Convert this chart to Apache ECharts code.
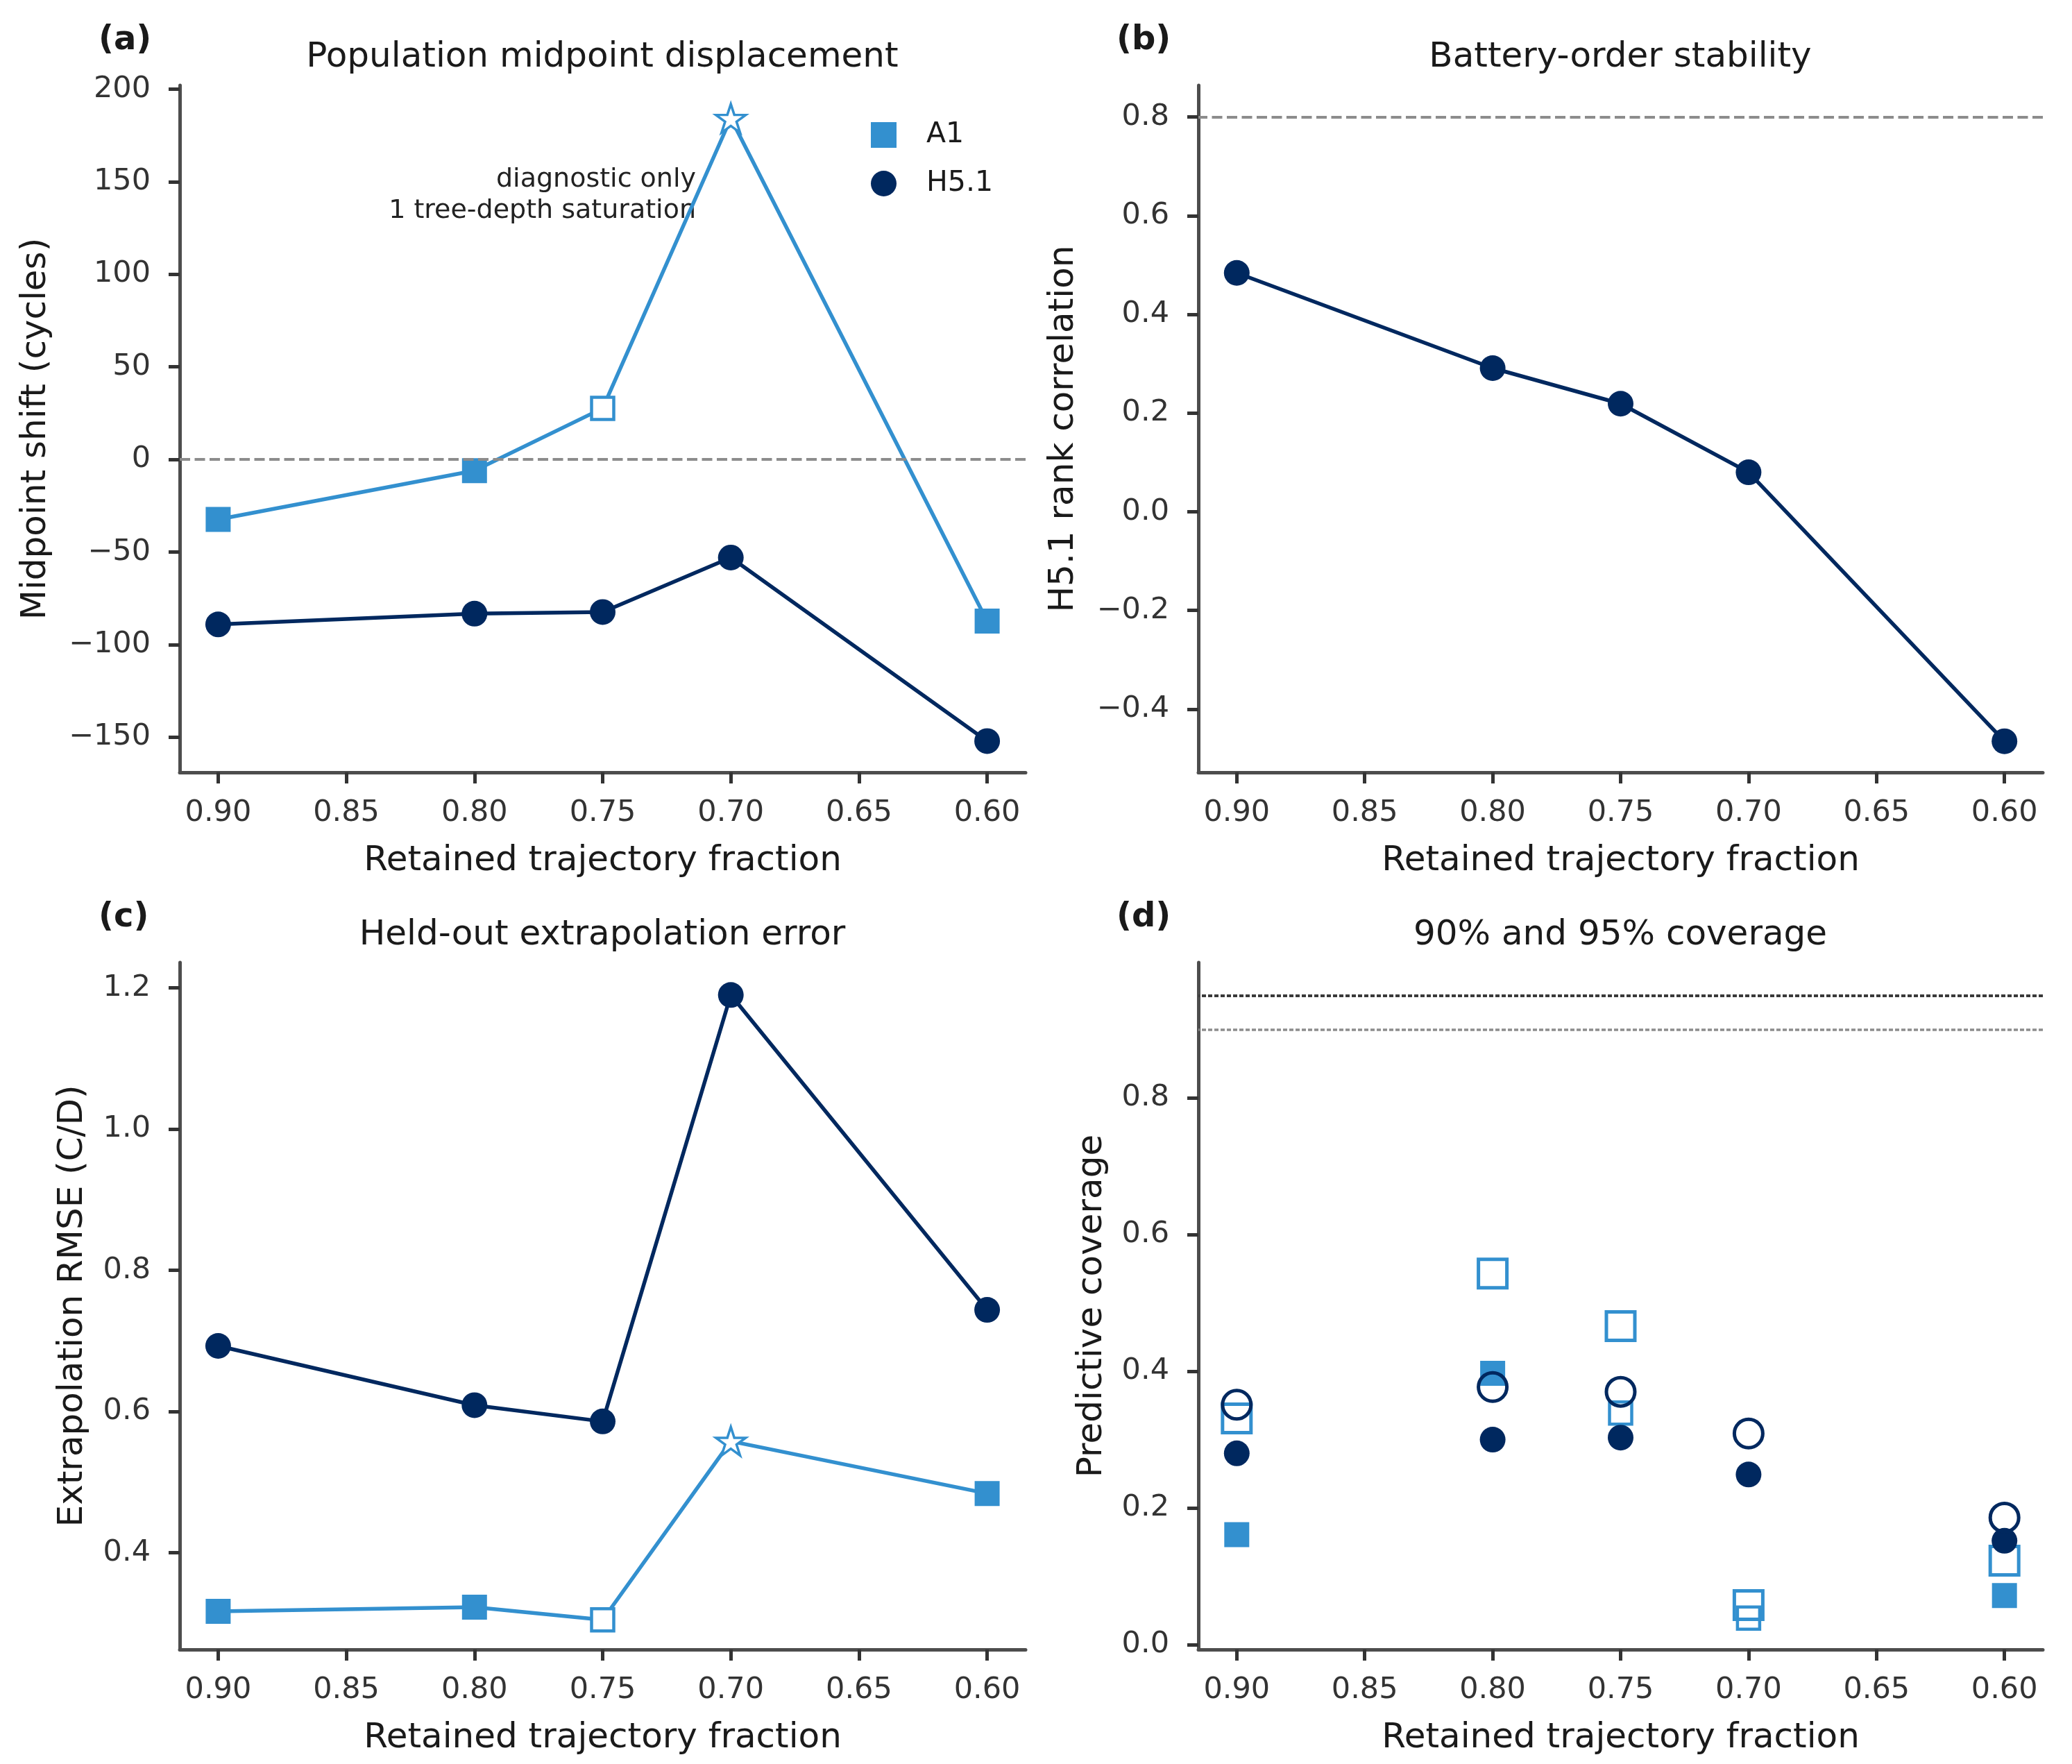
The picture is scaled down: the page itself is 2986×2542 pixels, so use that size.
<!DOCTYPE html>
<html>
<head>
<meta charset="utf-8">
<script src="https://cdn.jsdelivr.net/npm/echarts@6/dist/echarts.min.js"></script>
<style>
html,body{margin:0;padding:0;background:#fff;}
#chart{width:2986px;height:2542px;}
</style>
</head>
<body>
<div id="chart"></div>
<script>
// ---------------- data ----------------
const fractions = [0.90, 0.80, 0.75, 0.70, 0.60];
const xTicks = [0.90, 0.85, 0.80, 0.75, 0.70, 0.65, 0.60];
// A1 point status: normal, diagnostic only (open), tree-depth saturation (star)
const a1Status = ['ok', 'ok', 'diag', 'sat', 'ok'];

const midShiftA1 = [-32.4, -6.1, 27.6, 184.2, -87.3];
const midShiftH51 = [-89.1, -83.3, -82.4, -53.0, -152.1];

const rankCorrH51 = [0.484, 0.291, 0.219, 0.080, -0.465];

const rmseH51 = [0.693, 0.609, 0.586, 1.190, 0.744];
const rmseA1 = [0.317, 0.323, 0.305, 0.558, 0.484];

const cov90A1 = [0.161, 0.397, 0.339, 0.039, 0.072];
const cov95A1 = [0.331, 0.543, 0.466, 0.058, 0.123];
const cov90H51 = [0.280, 0.300, 0.303, 0.249, 0.152];
const cov95H51 = [0.351, 0.377, 0.370, 0.309, 0.186];

const yTicksA = [-150, -100, -50, 0, 50, 100, 150, 200];
const yTicksB = [-0.4, -0.2, 0.0, 0.2, 0.4, 0.6, 0.8];
const yTicksC = [0.4, 0.6, 0.8, 1.0, 1.2];
const yTicksD = [0.0, 0.2, 0.4, 0.6, 0.8];

const refShift = 0;
const refRank = 0.8;
const refCov95 = 0.95;
const refCov90 = 0.90;

// ---------------- style ----------------
const C_A1 = '#3390cf';
const C_H = '#00285f';
const FONT = 'DejaVu Sans';
const STAR = 'path://M50,0 L61.2,34.5 L97.6,34.5 L68.2,55.9 L79.4,90.5 L50,69.1 L20.6,90.5 L31.8,55.9 L2.4,34.5 L38.8,34.5 Z';
const LW = 5.5;

const grids = [
  {left: 259, top: 123, width: 1219, height: 990},
  {left: 1727, top: 123, width: 1217, height: 990},
  {left: 259, top: 1387, width: 1219, height: 990},
  {left: 1727, top: 1387, width: 1217, height: 990}
];

const minus = s => String(s).replace('-', '\u2212');

function xAxis(gi) {
  return {
    type: 'value', gridIndex: gi, inverse: true, min: 0.585, max: 0.915,
    axisLine: {show: true, onZero: false, lineStyle: {color: '#4d4d4d', width: 5}},
    axisTick: {show: true, customValues: xTicks, length: 16, lineStyle: {color: '#333', width: 5}},
    axisLabel: {customValues: xTicks, formatter: v => v.toFixed(2), fontSize: 43, color: '#333', margin: 37, fontFamily: FONT},
    splitLine: {show: false},
    name: 'Retained trajectory fraction', nameLocation: 'middle', nameGap: 103,
    nameTextStyle: {fontSize: 50, color: '#1a1a1a', fontFamily: FONT}
  };
}
function yAxis(gi, min, max, ticks, dec, name, gap) {
  return {
    type: 'value', gridIndex: gi, min: min, max: max,
    axisLine: {show: true, onZero: false, lineStyle: {color: '#4d4d4d', width: 5}},
    axisTick: {show: true, customValues: ticks, length: 16, lineStyle: {color: '#333', width: 5}},
    axisLabel: {customValues: ticks, formatter: v => minus(v.toFixed(dec)), fontSize: 43, color: '#333', margin: 42, fontFamily: FONT},
    splitLine: {show: false},
    name: name, nameLocation: 'middle', nameGap: gap,
    nameTextStyle: {fontSize: 50, color: '#1a1a1a', fontFamily: FONT}
  };
}

function a1LineData(vals) {
  return fractions.map((f, i) => {
    const st = a1Status[i];
    if (st === 'diag') return {value: [f, vals[i]], symbol: 'rect', symbolSize: 32,
      itemStyle: {color: '#fff', borderColor: C_A1, borderWidth: 4.5}};
    if (st === 'sat') return {value: [f, vals[i]], symbol: STAR, symbolSize: [43, 41],
      itemStyle: {color: '#fff', borderColor: C_A1, borderWidth: 3.5}};
    return {value: [f, vals[i]], symbol: 'rect', symbolSize: 36};
  });
}
function hLineData(vals) { return fractions.map((f, i) => [f, vals[i]]); }

function refLine(y, color, type, width) {
  return {yAxis: y, lineStyle: {color: color, type: type, width: width, opacity: 1}};
}
const markLineBase = {silent: true, symbol: ['none', 'none'], label: {show: false}, emphasis: {disabled: true}, animation: false};

const series = [];
// (a)
series.push({
  name: 'A1', type: 'line', xAxisIndex: 0, yAxisIndex: 0, data: a1LineData(midShiftA1),
  symbol: 'rect', symbolSize: 36, showAllSymbol: true,
  lineStyle: {color: C_A1, width: LW}, itemStyle: {color: C_A1, borderWidth: 0}, z: 3,
  markLine: Object.assign({}, markLineBase, {data: [refLine(refShift, '#8c8c8c', [15, 6.5], 4)]})
});
series.push({
  name: 'H5.1', type: 'line', xAxisIndex: 0, yAxisIndex: 0, data: hLineData(midShiftH51),
  symbol: 'circle', symbolSize: 37, lineStyle: {color: C_H, width: LW}, itemStyle: {color: C_H, borderWidth: 0}, z: 3
});
// (b)
series.push({
  name: 'H5.1', type: 'line', xAxisIndex: 1, yAxisIndex: 1, data: hLineData(rankCorrH51),
  symbol: 'circle', symbolSize: 37, lineStyle: {color: C_H, width: LW}, itemStyle: {color: C_H, borderWidth: 0}, z: 3,
  markLine: Object.assign({}, markLineBase, {data: [refLine(refRank, '#8c8c8c', [15, 6.5], 4)]})
});
// (c)
series.push({
  name: 'H5.1', type: 'line', xAxisIndex: 2, yAxisIndex: 2, data: hLineData(rmseH51),
  symbol: 'circle', symbolSize: 37, lineStyle: {color: C_H, width: LW}, itemStyle: {color: C_H, borderWidth: 0}, z: 3
});
series.push({
  name: 'A1', type: 'line', xAxisIndex: 2, yAxisIndex: 2, data: a1LineData(rmseA1),
  symbol: 'rect', symbolSize: 36, lineStyle: {color: C_A1, width: LW}, itemStyle: {color: C_A1, borderWidth: 0}, z: 3
});
// (d)
series.push({
  name: 'A1 90%', type: 'scatter', xAxisIndex: 3, yAxisIndex: 3, z: 3,
  data: fractions.map((f, i) => a1Status[i] === 'ok'
    ? {value: [f, cov90A1[i]], symbol: 'rect', symbolSize: 36, itemStyle: {color: C_A1, borderWidth: 0, opacity: 1}}
    : {value: [f, cov90A1[i]], symbol: 'rect', symbolSize: 32, itemStyle: {color: 'rgba(0,0,0,0)', borderColor: C_A1, borderWidth: 4.5, opacity: 1}}),
  markLine: Object.assign({}, markLineBase, {data: [
    refLine(refCov95, '#3a3a3a', [6, 3], 4),
    refLine(refCov90, '#8c8c8c', [6, 3], 3.5)
  ]})
});
series.push({
  name: 'A1 95%', type: 'scatter', xAxisIndex: 3, yAxisIndex: 3, z: 4,
  data: hLineData(cov95A1), symbol: 'rect', symbolSize: 41,
  itemStyle: {color: 'rgba(0,0,0,0)', borderColor: C_A1, borderWidth: 5, opacity: 1}
});
series.push({
  name: 'H5.1 90%', type: 'scatter', xAxisIndex: 3, yAxisIndex: 3, z: 5,
  data: hLineData(cov90H51), symbol: 'circle', symbolSize: 37, itemStyle: {color: C_H, borderWidth: 0, opacity: 1}
});
series.push({
  name: 'H5.1 95%', type: 'scatter', xAxisIndex: 3, yAxisIndex: 3, z: 6,
  data: hLineData(cov95H51), symbol: 'circle', symbolSize: 41,
  itemStyle: {color: 'rgba(0,0,0,0)', borderColor: C_H, borderWidth: 5, opacity: 1}
});

function txt(text, x, y, size, opts) {
  return Object.assign({type: 'text', x: x, y: y, silent: true, style: Object.assign({
    text: text, fontSize: size, fontFamily: FONT, fill: '#1a1a1a', align: 'center', verticalAlign: 'middle'
  }, opts || {})});
}

const graphic = [
  txt('(a)', 142, 59, 48, {fontWeight: 'bold', align: 'left'}),
  txt('(b)', 1609, 59, 48, {fontWeight: 'bold', align: 'left'}),
  txt('(c)', 142, 1323, 48, {fontWeight: 'bold', align: 'left'}),
  txt('(d)', 1609, 1323, 48, {fontWeight: 'bold', align: 'left'}),
  txt('Population midpoint displacement', 868, 83, 50),
  txt('Battery-order stability', 2335, 83, 50),
  txt('Held-out extrapolation error', 868, 1348, 50),
  txt('90% and 95% coverage', 2335, 1348, 50),
  txt('diagnostic only', 1003, 259, 38, {align: 'right', fill: '#222'}),
  txt('1 tree-depth saturation', 1003, 304, 38, {align: 'right', fill: '#222'})
];

const option = {
  backgroundColor: '#fff',
  animation: false,
  grid: grids,
  xAxis: [xAxis(0), xAxis(1), xAxis(2), xAxis(3)],
  yAxis: [
    yAxis(0, -169, 202, yTicksA, 0, 'Midpoint shift (cycles)', 182),
    yAxis(1, -0.528, 0.864, yTicksB, 1, 'H5.1 rank correlation', 169),
    yAxis(2, 0.263, 1.236, yTicksC, 1, 'Extrapolation RMSE (C/D)', 129),
    yAxis(3, -0.007, 0.998, yTicksD, 1, 'Predictive coverage', 128)
  ],
  legend: {
    orient: 'vertical', left: 1250, top: 169, itemWidth: 37, itemHeight: 37, itemGap: 29,
    data: [{name: 'A1', icon: 'rect'}, {name: 'H5.1', icon: 'circle'}],
    textStyle: {fontSize: 41, color: '#1a1a1a', fontFamily: FONT, padding: [0, 0, 0, 38]},
    selectedMode: false
  },
  graphic: graphic,
  series: series
};

const chart = echarts.init(document.getElementById('chart'), null, {renderer: 'canvas'});
chart.setOption(option);
</script>
</body>
</html>
